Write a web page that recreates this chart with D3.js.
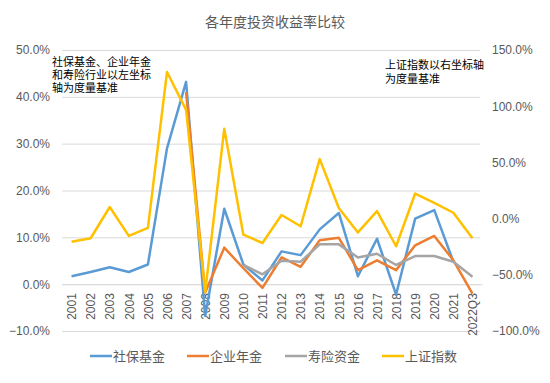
<!DOCTYPE html>
<html>
<head>
<meta charset="utf-8">
<title>各年度投资收益率比较</title>
<script src="https://d3js.org/d3.v7.min.js"></script>
<style>
  body { margin: 0; background: #fff; }
  text { font-family: "Noto Sans CJK SC", "Noto Sans", sans-serif; }
  text.note { font-family: "Liberation Sans", "Noto Sans CJK SC", sans-serif; }
</style>
</head>
<body>
<svg width="550" height="383"></svg>
<script>
// categories
var years = ["2001","2002","2003","2004","2005","2006","2007","2008","2009","2010","2011",
             "2012","2013","2014","2015","2016","2017","2018","2019","2020","2021","2022Q3"];
// left axis series (%)
var social    = [1.7, 2.6, 3.6, 2.6, 4.2, 29.0, 43.2, -6.8, 16.1, 4.2, 0.8, 7.0, 6.2, 11.7, 15.2, 1.7, 9.7, -2.2, 14.0, 15.8, 4.8, null];
var annuity   = [null, null, null, null, null, null, 41.0, -1.8, 7.8, 3.4, -0.8, 5.7, 3.7, 9.4, 9.9, 3.0, 5.1, 3.0, 8.3, 10.3, 5.1, -2.0];
var insurance = [null, null, null, null, null, null, null, null, null, 4.1, 2.1, 5.0, 4.8, 8.5, 8.5, 5.7, 6.5, 4.1, 6.0, 6.0, 4.8, 1.6];
// right axis series (%)
var sse = [-20.6, -17.5, 10.3, -15.4, -8.3, 130.4, 96.7, -65.4, 80.0, -14.3, -21.7, 3.2, -6.8, 52.9, 9.4, -12.3, 6.6, -24.6, 22.3, 13.9, 5.2, -17.5];
// ticks
var leftTicks = [-10, 0, 10, 20, 30, 40, 50];
var rightTicks = [-100, -50, 0, 50, 100, 150];

var svg = d3.select("svg");
var top_ = 50, bottom = 331, left = 62, right = 480;

var x = d3.scalePoint().domain(years).range([left, right + 2]).padding(0.5);
var yL = d3.scaleLinear().domain([-10, 50]).range([bottom, top_]);
var yR = d3.scaleLinear().domain([-100, 150]).range([bottom, top_]);
var fmt = function(v) { return d3.format(".1f")(v) + "%"; };

// title
svg.append("text").attr("x", 275).attr("y", 27).attr("text-anchor", "middle")
  .attr("font-size", 14).attr("fill", "#595959").text("各年度投资收益率比较");

// gridlines + left axis
var gl = svg.append("g").attr("transform", "translate(" + left + ",0)")
  .call(d3.axisLeft(yL).tickValues(leftTicks).tickSize(-(right - left)).tickFormat(fmt));
gl.select(".domain").remove();
gl.selectAll(".tick line").attr("stroke", "#d9d9d9");
gl.selectAll(".tick text").attr("x", -12).attr("font-size", 12).attr("fill", "#595959")
  .style("font-family", "'Liberation Sans', sans-serif");

// right axis
var gr = svg.append("g").attr("transform", "translate(" + (right + 12) + ",0)")
  .call(d3.axisRight(yR).tickValues(rightTicks).tickSize(0).tickFormat(fmt));
gr.select(".domain").remove();
gr.selectAll(".tick text").attr("x", 0).attr("font-size", 12).attr("fill", "#595959")
  .style("font-family", "'Liberation Sans', sans-serif");

// category labels (axis crosses at 0)
var gx = svg.append("g").attr("transform", "translate(0," + yL(0) + ")")
  .call(d3.axisBottom(x).tickSize(0));
gx.select(".domain").attr("stroke", "#d9d9d9");
gx.selectAll(".tick text")
  .attr("transform", "rotate(-90)")
  .attr("text-anchor", "end")
  .attr("x", -9).attr("y", 0).attr("dy", "0.35em")
  .attr("font-size", 12).attr("fill", "#595959")
  .style("font-family", "'Liberation Sans', sans-serif");

// lines
var series = [
  { name: "社保基金", vals: social, y: yL, color: "#5B9BD5" },
  { name: "企业年金", vals: annuity, y: yL, color: "#ED7D31" },
  { name: "寿险资金", vals: insurance, y: yL, color: "#A5A5A5" },
  { name: "上证指数", vals: sse, y: yR, color: "#FFC000" }
];
series.forEach(function(s) {
  var line = d3.line()
    .defined(function(d) { return d != null; })
    .x(function(d, i) { return x(years[i]); })
    .y(function(d) { return s.y(d); });
  svg.append("path").datum(s.vals)
    .attr("fill", "none").attr("stroke", s.color).attr("stroke-width", 2.5)
    .attr("stroke-linejoin", "round").attr("d", line);
});

// notes, one line per text
function note(lines, x0, y0, lead) {
  lines.forEach(function(s, i) {
    svg.append("text").attr("class", "note").attr("x", x0).attr("y", y0 + i * lead)
      .attr("font-size", 11).attr("fill", "#000").text(s);
  });
}
note(["社保基金、企业年金", "和寿险行业以左坐标", "轴为度量基准"], 52, 66, 13);
note(["上证指数以右坐标轴", "为度量基准"], 385, 69, 14);

// legend
var legX = [90, 187, 285, 382];
series.forEach(function(s, i) {
  var g = svg.append("g").attr("transform", "translate(" + legX[i] + ",356)");
  g.append("line").attr("x1", 0).attr("x2", 22).attr("stroke", s.color).attr("stroke-width", 2.5);
  g.append("text").attr("x", 23).attr("dy", "0.35em").attr("font-size", 13)
    .attr("fill", "#595959").text(s.name);
});
</script>
</body>
</html>
